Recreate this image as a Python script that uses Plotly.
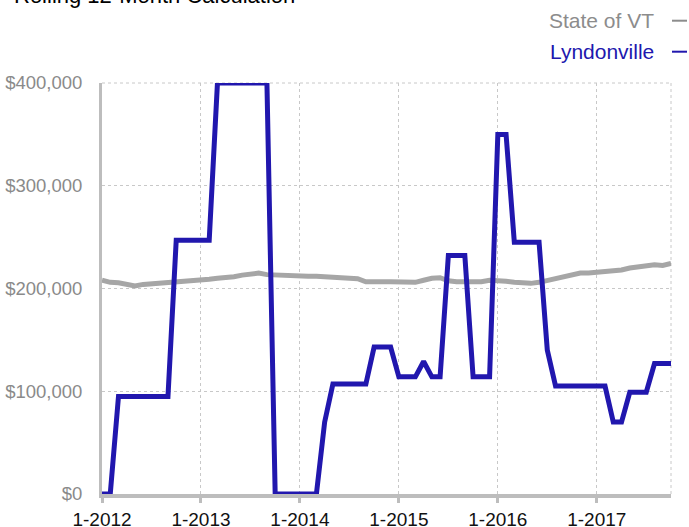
import plotly.graph_objects as go

# Categories: monthly points Jan 2012 .. Oct 2017
months = [f"{m}-{y}" for y in range(2012, 2018) for m in range(1, 13)][:70]

state_vt = [
    208000, 206000, 205500, 204000, 202500, 204000, 204500, 205500, 206000, 206000,
    206500, 207000, 208000, 209000, 210000, 210500, 211500, 213000, 214000, 215000,
    213500, 213000, 213000, 212500, 212500, 212000, 212000, 212000, 211000, 210500,
    210500, 209500, 206500, 206000, 206500, 206500, 206000, 206500, 206000, 208000,
    210000, 210500, 207500, 206500, 206500, 206500, 206500, 208000, 208000, 207000,
    206000, 205000, 205000, 206000, 208000, 210000, 212000, 214000, 215000, 215000,
    215500, 217000, 217500, 218000, 220000, 221000, 222500, 223000, 222500, 224500,
]

lyndonville = [
    0, 0, 95000, 95000, 95000, 95000, 95000, 95000, 95000, 247000,
    247000, 247000, 247000, 247000, 400000, 400000, 400000, 400000, 400000, 400000,
    400000, 0, 0, 0, 0, 0, 0, 70000, 107000, 107000,
    107000, 107000, 107000, 143000, 143000, 143000, 114000, 114000, 114000, 129000,
    114000, 114000, 232000, 232000, 232000, 114000, 114000, 114000, 350000, 350000,
    245000, 245000, 245000, 245000, 140000, 105000, 105000, 105000, 105000, 105000,
    105000, 105000, 70000, 70000, 99000, 99000, 99000, 127000, 127000, 127000,
]

tick_labels = ["1-2012", "1-2013", "1-2014", "1-2015", "1-2016", "1-2017"]
y_ticks = [0, 100000, 200000, 300000, 400000]

GRAY_LINE = "#a6a6a6"
BLUE = "#2117ae"
AXIS = "#bdbdbd"
GRID = "#c8c8c8"

fig = go.Figure()
fig.add_trace(go.Scatter(x=months, y=state_vt, mode="lines", name="State of VT",
                         line=dict(color=GRAY_LINE, width=5), showlegend=False))
fig.add_trace(go.Scatter(x=months, y=lyndonville, mode="lines", name="Lyndonville",
                         line=dict(color=BLUE, width=5), showlegend=False))

L, R, T, B = 102, 18, 83, 33
W, H = 689, 527
pw, ph = W - L - R, H - T - B

def px(xp):
    return (xp - L) / pw

def py(yp):
    return (H - B - yp) / ph

fig.update_layout(
    width=W, height=H,
    margin=dict(l=L, r=R, t=T, b=B, pad=0, autoexpand=False),
    plot_bgcolor="white", paper_bgcolor="white",
    font=dict(family="Liberation Sans, Arial, sans-serif"),
    xaxis=dict(
        type="category", range=[0, 69], tickvals=tick_labels, ticktext=tick_labels,
        showgrid=True, gridcolor=GRID, griddash="dot", gridwidth=1,
        showline=True, linecolor=AXIS, linewidth=4,
        ticks="outside", ticklen=5, tickwidth=3, tickcolor=AXIS,
        tickfont=dict(size=19, color="#111111"), zeroline=False, layer="below traces",
        automargin=False,
    ),
    yaxis=dict(
        range=[0, 400000], tickvals=y_ticks, tickformat="$,.0f",
        showgrid=True, gridcolor=GRID, griddash="dot", gridwidth=1,
        showline=True, linecolor=AXIS, linewidth=3,
        tickfont=dict(size=18.5, color="#8a8a8a"), ticklabelstandoff=13,
        zeroline=False, layer="below traces", automargin=False,
    ),
    annotations=[
        dict(text="Rolling 12-Month Calculation", xref="paper", yref="paper",
             x=px(12), y=py(-4.7), xanchor="left", yanchor="middle", showarrow=False,
             font=dict(size=22, color="#000000")),
        dict(text="State of VT", xref="paper", yref="paper",
             x=px(656), y=py(20), xanchor="right", yanchor="middle", showarrow=False,
             font=dict(size=21, color="#8c8c8c")),
        dict(text="Lyndonville", xref="paper", yref="paper",
             x=px(656), y=py(51), xanchor="right", yanchor="middle", showarrow=False,
             font=dict(size=21, color=BLUE)),
    ],
    shapes=[
        dict(type="line", xref="paper", yref="paper", x0=1, x1=1, y0=0, y1=1,
             line=dict(color=GRID, width=1, dash="dot"), layer="below"),
        dict(type="line", xref="paper", yref="paper", x0=0, x1=1, y0=1, y1=1,
             line=dict(color=GRID, width=1, dash="dot"), layer="below"),
        dict(type="line", xref="paper", yref="paper", x0=px(672), x1=px(687),
             y0=py(20.7), y1=py(20.7), line=dict(color="#8c8c8c", width=2)),
        dict(type="line", xref="paper", yref="paper", x0=px(672), x1=px(687),
             y0=py(51.7), y1=py(51.7), line=dict(color=BLUE, width=2)),
    ],
)

fig.write_html("out.html", config={"displayModeBar": False},
               post_script="document.body.style.margin='0px';")
